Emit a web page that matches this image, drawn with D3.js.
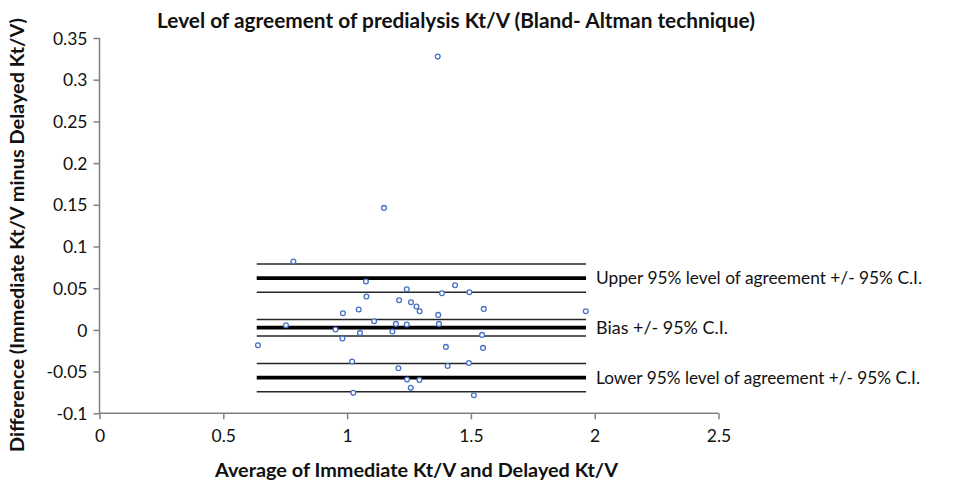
<!DOCTYPE html>
<html>
<head>
<meta charset="utf-8">
<script src="https://cdn.jsdelivr.net/npm/d3@7"></script>
<style>
  html, body { margin: 0; padding: 0; background: #fff; }
  svg { display: block; }
  text { font-family: Lato, "Open Sans", "DejaVu Sans", sans-serif; fill: #111; }
</style>
</head>
<body>
<svg id="chart" width="953" height="482"></svg>
<script>
// ---- data ----
const avgValues = [0.783, 0.753, 0.953, 0.640, 1.076, 1.436, 1.241, 1.383, 1.494, 1.078,
  1.210, 1.258, 1.280, 1.293, 0.983, 1.047, 1.368, 1.552, 1.964, 1.109,
  1.197, 1.241, 1.371, 1.183, 1.052, 0.981, 1.545, 1.399, 1.549, 1.020,
  1.492, 1.406, 1.207, 1.242, 1.292, 1.257, 1.025, 1.512, 1.366, 1.149];
const diffValues = [0.082, 0.0056, 0.0004, -0.0184, 0.058, 0.0536, 0.0488, 0.044, 0.0452, 0.040,
  0.0356, 0.0332, 0.028, 0.0224, 0.020, 0.0244, 0.018, 0.0252, 0.0224, 0.0104,
  0.0072, 0.0064, 0.0072, -0.002, -0.0036, -0.0104, -0.006, -0.0204, -0.0216, -0.038,
  -0.0396, -0.0432, -0.046, -0.0596, -0.060, -0.0695, -0.0755, -0.0783, 0.3277, 0.1463];

const lineGroups = ["Upper 95% level of agreement +/- 95% C.I.", "Bias +/- 95% C.I.", "Lower 95% level of agreement +/- 95% C.I."];
const upperLimits = [0.079, 0.062, 0.045];     // upper CI, estimate, lower CI
const biasLimits = [0.0125, 0.0028, -0.0072];
const lowerLimits = [-0.0404, -0.0572, -0.0743];
const lineXRange = [0.635, 1.965];

const xTicks = [0, 0.5, 1, 1.5, 2, 2.5];
const yTicks = [-0.1, -0.05, 0, 0.05, 0.1, 0.15, 0.2, 0.25, 0.3, 0.35];

const titleText = "Level of agreement of predialysis Kt/V (Bland- Altman technique)";
const xTitleText = "Average of Immediate Kt/V and Delayed Kt/V";
const yTitleText = "Difference (Immediate Kt/V minus Delayed Kt/V)";

// ---- layout ----
const svg = d3.select("#chart");
const plotL = 99.5, plotR = 718.5, plotT = 38, plotB = 413.3;

const x = d3.scaleLinear().domain([0, 2.5]).range([plotL, plotR]);
const y = d3.scaleLinear().domain([-0.1, 0.35]).range([plotB, plotT]);

function fit(sel, w) {
  sel.attr("textLength", w).attr("lengthAdjust", "spacingAndGlyphs");
}

// axes
const axisColor = "#808080";
const yAxis = svg.append("g").attr("transform", `translate(${plotL},0)`)
  .call(d3.axisLeft(y).tickValues(yTicks).tickSize(6).tickPadding(6)
    .tickFormat(d => String(+d.toFixed(2))));
const xAxis = svg.append("g").attr("transform", `translate(0,${plotB})`)
  .call(d3.axisBottom(x).tickValues(xTicks).tickSize(6).tickPadding(6)
    .tickFormat(d => String(d)));
[xAxis, yAxis].forEach(g => {
  g.select(".domain").attr("stroke", axisColor).attr("stroke-width", 1.5);
  g.selectAll(".tick line").attr("stroke", axisColor).attr("stroke-width", 1.5);
  g.selectAll(".tick text").attr("fill", "#111")
    .style("font-family", "Lato, 'Open Sans', sans-serif").style("font-size", "17.5px");
});
yAxis.select(".domain").attr("d", `M0,${plotB}V${plotT}`);
xAxis.select(".domain").attr("d", `M${plotL},0H${plotR}`);
yAxis.selectAll(".tick text").attr("dy", "0.35em");
xAxis.selectAll(".tick text").attr("dy", "0.95em");

// reference lines
const groups = [upperLimits, biasLimits, lowerLimits];
const labelWidths = [326, 132, 324];
groups.forEach((vals, gi) => {
  vals.forEach((v, i) => {
    svg.append("line")
      .attr("x1", x(lineXRange[0])).attr("x2", x(lineXRange[1]))
      .attr("y1", y(v)).attr("y2", y(v))
      .attr("stroke", i === 1 ? "#000" : "#262626")
      .attr("stroke-width", i === 1 ? 3.8 : 1.5);
  });
  const lab = svg.append("text")
    .attr("x", 596).attr("y", y(vals[1]))
    .attr("dy", "0.35em")
    .style("font-size", "18px")
    .text(lineGroups[gi]);
  fit(lab, labelWidths[gi]);
});

// points
svg.append("g").selectAll("circle")
  .data(avgValues.map((a, i) => [a, diffValues[i]]))
  .join("circle")
  .attr("cx", d => x(d[0])).attr("cy", d => y(d[1]))
  .attr("r", 2.4)
  .attr("fill", "#fff")
  .attr("stroke", "#4a72c4")
  .attr("stroke-width", 1.3);

// titles
const t = svg.append("text").attr("x", 157).attr("y", 28)
  .style("font-size", "20px").style("font-weight", "bold").text(titleText);
fit(t, 598);

const xt = svg.append("text").attr("x", 215).attr("y", 477)
  .style("font-size", "19.5px").style("font-weight", "bold").text(xTitleText);
fit(xt, 403);

const yt = svg.append("text")
  .attr("transform", "translate(24,452) rotate(-90)")
  .style("font-size", "19.5px").style("font-weight", "bold").text(yTitleText);
fit(yt, 434);
</script>
</body>
</html>
